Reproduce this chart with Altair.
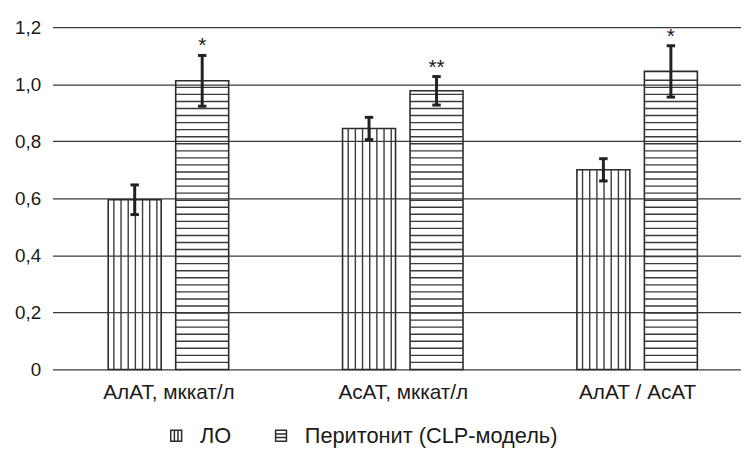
import json
import altair as alt
import pandas as pd

# ---- data ----
groups = ["АлАТ, мккат/л", "АсАТ, мккат/л", "АлАТ / АсАТ"]
series = ["ЛО", "Перитонит (CLP-модель)"]
lo_vals = [0.595, 0.845, 0.70]
lo_err = [0.052, 0.039, 0.039]
clp_vals = [1.012, 0.977, 1.045]
clp_err = [0.089, 0.050, 0.090]
signif = ["*", "**", "*"]
y_ticks = [0, 0.2, 0.4, 0.6, 0.8, 1.0, 1.2]

# ---- layout helpers (styles / geometry, not data) ----
PX_PER_UNIT = 236.9          # pixels per category step
PLOT_W, PLOT_H = 696, 346
X_MIN = -0.4947
X_MAX = X_MIN + PLOT_W / PX_PER_UNIT
INNER, OUTER = 0.031, 0.257  # bar edges relative to category centre
CAP = 0.018
FONT = "Liberation Sans"
INK = "#2b2b2b"

bars, vstripes, hstripes, errs, caps, stars = [], [], [], [], [], []
for i, g in enumerate(groups):
    for s, vals, errv in ((series[0], lo_vals, lo_err), (series[1], clp_vals, clp_err)):
        v, e = vals[i], errv[i]
        if s == series[0]:
            x0, x1 = i - OUTER, i - INNER
        else:
            x0, x1 = i + INNER, i + OUTER
        cx = (x0 + x1) / 2
        bars.append(dict(series=s, x0=x0, x1=x1, v=v, base=0.0))
        if s == series[0]:
            for k in range(7):
                vstripes.append(dict(x=x0 + (5.7 + 7.25 * k) / PX_PER_UNIT, v=v, base=0.0))
        else:
            step = 7.13 / (PLOT_H / 1.2)
            y = step
            while y < v - step * 0.3:
                hstripes.append(dict(x0=x0, x1=x1, y=y))
                y += step
        errs.append(dict(x=cx, lo=v - e, hi=v + e))
        caps.append(dict(x0=cx - CAP, x1=cx + CAP, y=v - e))
        caps.append(dict(x0=cx - CAP, x1=cx + CAP, y=v + e))
        if s == series[1]:
            stars.append(dict(x=cx, y=v + e, t=signif[i]))

xscale = alt.Scale(domain=[X_MIN, X_MAX], nice=False, zero=False)
yscale = alt.Scale(domain=[0, 1.2], nice=False)

label_arr = json.dumps(groups, ensure_ascii=False)
x_axis = alt.Axis(values=[0, 1, 2], labelExpr=f"{label_arr}[round(datum.value)]",
                  grid=False, domain=False, ticks=False, title=None,
                  labelFontSize=21, labelPadding=12, labelColor="#1a1a1a", labelFont=FONT)
y_axis = alt.Axis(values=y_ticks,
                  labelExpr="datum.value == 0 ? '0' : replace(format(datum.value, '.1f'), '.', ',')",
                  grid=True, gridColor="#3a3a3a", gridWidth=1.2, domain=False, ticks=False,
                  title=None, labelFontSize=19, labelPadding=12, labelColor="#1a1a1a", labelFont=FONT)

base_bars = alt.Chart(pd.DataFrame(bars))
bar_layer = base_bars.mark_bar(fill="transparent", stroke=INK, strokeWidth=1.6).encode(
    x=alt.X("x0:Q", scale=xscale, axis=x_axis),
    x2="x1:Q",
    y=alt.Y("v:Q", scale=yscale, axis=y_axis),
    y2="base:Q",
)

legend_paths = [
    "M-1,-1H1V1H-1Z M-0.33,-1V1 M0.33,-1V1",
    "M-1,-1H1V1H-1Z M-1,-0.33H1 M-1,0.33H1",
]
legend_layer = base_bars.mark_point(opacity=0, filled=False).encode(
    x="x0:Q",
    y="v:Q",
    shape=alt.Shape("series:N", scale=alt.Scale(domain=series, range=legend_paths),
                    legend=alt.Legend(title=None, orient="none", direction="horizontal",
                                      legendX=114, legendY=402,
                                      labelFontSize=22, labelFont=FONT, labelColor="#1a1a1a",
                                      labelLimit=0,
                                      symbolSize=121, symbolStrokeColor=INK, symbolFillColor="white",
                                      symbolStrokeWidth=1.5, symbolOpacity=1, labelOffset=13,
                                      columnPadding=39)),
)

vs_layer = alt.Chart(pd.DataFrame(vstripes)).mark_rule(color="#3a3a3a", strokeWidth=1.4).encode(
    x="x:Q", y="v:Q", y2="base:Q")
hs_layer = alt.Chart(pd.DataFrame(hstripes)).mark_rule(color="#3a3a3a", strokeWidth=1.4).encode(
    x="x0:Q", x2="x1:Q", y="y:Q")
err_layer = alt.Chart(pd.DataFrame(errs)).mark_rule(color="#222222", strokeWidth=3).encode(
    x="x:Q", y="lo:Q", y2="hi:Q")
cap_layer = alt.Chart(pd.DataFrame(caps)).mark_rule(color="#222222", strokeWidth=3).encode(
    x="x0:Q", x2="x1:Q", y="y:Q")
star_layer = alt.Chart(pd.DataFrame(stars)).mark_text(
    baseline="bottom", dy=1, fontSize=21, font=FONT, color="#1a1a1a").encode(
    x="x:Q", y="y:Q", text="t:N")

chart = alt.layer(
    bar_layer, vs_layer, hs_layer, legend_layer, err_layer, cap_layer, star_layer
).properties(
    width=PLOT_W, height=PLOT_H,
    autosize=alt.AutoSizeParams(type="none"),
    padding={"left": 45, "top": 17, "right": 0, "bottom": 79},
    background="white",
).configure_view(strokeWidth=0)

chart.save("out.html", embed_options={"renderer": "svg", "actions": False})
